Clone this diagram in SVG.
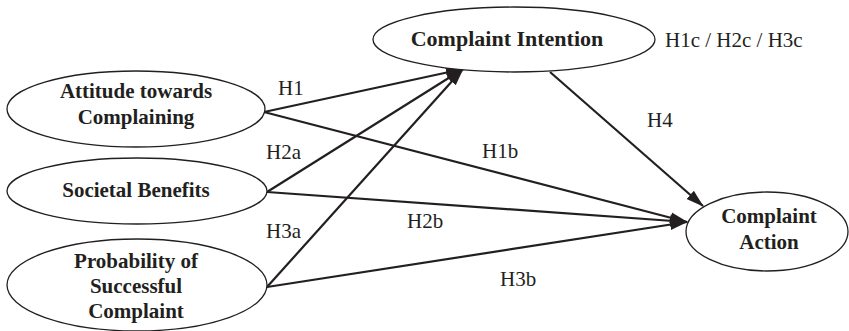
<svg xmlns="http://www.w3.org/2000/svg" width="849" height="331" viewBox="0 0 849 331">
  <style>
    .node ellipse { fill: #ffffff; stroke: #231f20; stroke-width: 1.3; }
    .node text { font-family: "Liberation Serif", "Times New Roman", serif; font-weight: bold; font-size: 21px; fill: #231f20; text-anchor: middle; }
    .edge { stroke: #231f20; stroke-width: 2.2; fill: none; marker-end: url(#arrow); }
    .lbl { font-family: "Liberation Serif", "Times New Roman", serif; font-size: 21px; fill: #231f20; }
  </style>
  <defs>
    <marker id="arrow" markerUnits="userSpaceOnUse" markerWidth="18" markerHeight="14" viewBox="0 0 18 14" refX="17" refY="7" orient="auto">
      <path d="M0,1.5 L18,7 L0,12.5 Z" fill="#231f20"/>
    </marker>
  </defs>

  <rect width="849" height="331" fill="#ffffff"/>

  <g id="connectors">
    <line class="edge" x1="264" y1="112" x2="463" y2="69"/>
    <line class="edge" x1="264" y1="112" x2="687" y2="222"/>
    <line class="edge" x1="267" y1="192" x2="463" y2="69"/>
    <line class="edge" x1="267" y1="192" x2="687" y2="222"/>
    <line class="edge" x1="267" y1="287" x2="463" y2="69"/>
    <line class="edge" x1="267" y1="287" x2="687" y2="222"/>
    <line class="edge" x1="550" y1="72" x2="703" y2="206"/>
  </g>

  <g id="attitude" class="node">
    <ellipse cx="136" cy="109" rx="129" ry="38"/>
    <text x="136" y="98">Attitude towards</text>
    <text x="136" y="124">Complaining</text>
  </g>

  <g id="societal" class="node">
    <ellipse cx="137" cy="191" rx="130" ry="33"/>
    <text x="136" y="197">Societal Benefits</text>
  </g>

  <g id="probability" class="node">
    <ellipse cx="137" cy="285" rx="130" ry="46"/>
    <text x="136" y="268">Probability of</text>
    <text x="136" y="293">Successful</text>
    <text x="136" y="318">Complaint</text>
  </g>

  <g id="intention" class="node">
    <ellipse cx="514" cy="39.5" rx="141" ry="32.5"/>
    <text x="507" y="46" style="font-size:22px">Complaint Intention</text>
  </g>

  <g id="action" class="node">
    <ellipse cx="767" cy="231.5" rx="81" ry="39.5"/>
    <text x="769" y="223">Complaint</text>
    <text x="769" y="249">Action</text>
  </g>

  <g id="labels">
    <text class="lbl" x="278" y="95">H1</text>
    <text class="lbl" x="266" y="159">H2a</text>
    <text class="lbl" x="266" y="238">H3a</text>
    <text class="lbl" x="482" y="158">H1b</text>
    <text class="lbl" x="407" y="228">H2b</text>
    <text class="lbl" x="500" y="286">H3b</text>
    <text class="lbl" x="647" y="127">H4</text>
    <text class="lbl" x="665" y="47">H1c / H2c / H3c</text>
  </g>
</svg>
